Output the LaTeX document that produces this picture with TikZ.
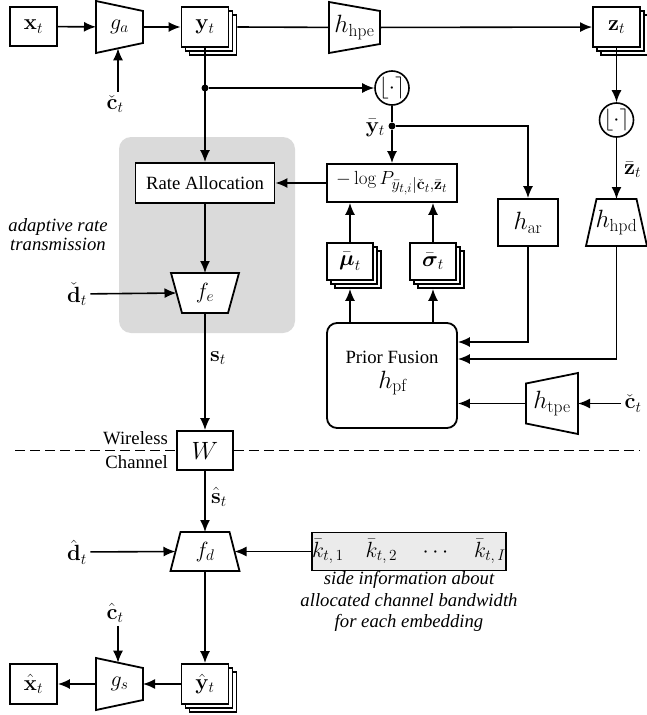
\RequirePackage{fix-cm}
\documentclass[tikz,border=0pt]{standalone}
\usepackage{amsmath}
\usepackage[no-math]{fontspec}
\newfontfamily\serifface{Liberation Serif}
\usetikzlibrary{arrows.meta,shadows,calc}

% larger subscripts for the probability label
\DeclareMathSizes{19}{19}{16}{13}

\definecolor{regiongray}{HTML}{DADADA}
\definecolor{sidegray}{HTML}{EBEBEB}

\pgfdeclarelayer{background}
\pgfdeclarelayer{shapes}
\pgfsetlayers{background,shapes,main}

\tikzset{
  mathfont/.style={font=\fontsize{22}{26}\selectfont},
  hfont/.style={font=\fontsize{25}{29}\selectfont},
  textfont/.style={font=\fontsize{18.7}{22}\selectfont\serifface},
  box/.style={draw, line width=1.8pt, fill=white, inner sep=0pt, mathfont},
  stackbox/.style={box, double copy shadow={shadow xshift=4pt, shadow yshift=-4pt}},
  trapbox/.style={inner sep=0pt, outer sep=0pt, mathfont},
  trapline/.style={draw, line width=1.8pt, fill=white, line join=miter},
  conn/.style={line width=1.6pt},
  arr/.style={conn, -{Latex[length=12pt,width=10pt]}},
  rounding/.style={draw, line width=1.6pt, circle, minimum size=34pt, inner sep=0pt, fill=white, mathfont},
  junction/.style={circle, fill, inner sep=0pt, minimum size=7pt},
  dashedline/.style={line width=1pt, dash pattern=on 10pt off 5pt},
}

% trapezoid with vertical sides: insets of the left and right sides
\newcommand\traph[3]{\draw[trapline] ([yshift=-#2pt]#1.north west) -- ([yshift=-#3pt]#1.north east) -- ([yshift=#3pt]#1.south east) -- ([yshift=#2pt]#1.south west) -- cycle;}
% trapezoid with horizontal sides: insets of the top and bottom sides
\newcommand\trapv[3]{\draw[trapline] ([xshift=#2pt]#1.north west) -- ([xshift=-#2pt]#1.north east) -- ([xshift=-#3pt]#1.south east) -- ([xshift=#3pt]#1.south west) -- cycle;}

\begin{document}
\begin{tikzpicture}[x=1pt, y=-1pt]
\useasboundingbox (0,0) rectangle (647,715);

% ---------- encoder side ----------
\node[box, minimum width=47pt, minimum height=39pt] (xt) at (33.5,26.5) {$\mathbf{x}_t$};
\node[trapbox, minimum width=47pt, minimum height=52pt] (ga) at (119.5,27) {$g_a$};
\node[stackbox, minimum width=47pt, minimum height=40pt] (yt) at (205,27) {$\mathbf{y}_t$};
\node[trapbox, hfont, minimum width=51pt, minimum height=51pt] (hhpe) at (354.5,27.5) {$h_{\mathrm{hpe}}$};
\node[stackbox, minimum width=47pt, minimum height=40pt] (zt) at (616.5,27) {$\mathbf{z}_t$};
\node[mathfont] (cta) at (115,104) {$\check{\mathbf{c}}_t$};
\coordinate (ga-in) at (118,48.3);

\node[junction] (j1) at (205,88) {};
\node[rounding] (q1) at (392,88) {$\lfloor\cdot\rceil$};
\node[junction] (j2) at (392,126) {};
\node[mathfont, anchor=east, inner sep=0pt] (ybar) at (385,128) {$\bar{\mathbf{y}}_t$};

% rate allocation region
\begin{pgfonlayer}{background}
\node[fill=regiongray, rounded corners=12pt, minimum width=176pt, minimum height=196pt, inner sep=0pt] (region) at (207,235) {};
\end{pgfonlayer}
\node[box, textfont, minimum width=139pt, minimum height=40pt] (ra) at (205,183) {Rate Allocation};
\node[box, minimum width=130pt, minimum height=38pt, font=\fontsize{19}{23}\selectfont] (lp) at (392,183) {$-\log P_{\bar{y}_{t,i}|\check{\mathbf{c}}_t,\bar{\mathbf{z}}_t}$};
\node[font=\fontsize{18.7}{19}\selectfont\serifface\itshape, align=center, inner sep=0pt] (adapt) at (58,235) {adaptive rate\\transmission};

\node[stackbox, minimum width=46pt, minimum height=37pt] (mu) at (350,261.5) {$\bar{\boldsymbol{\mu}}_t$};
\node[stackbox, minimum width=46pt, minimum height=37pt] (sg) at (433,261.5) {$\bar{\boldsymbol{\sigma}}_t$};
\node[box, hfont, minimum width=60pt, minimum height=47pt] (har) at (528,222.5) {$h_{\mathrm{ar}}$};
\node[trapbox, hfont, minimum width=61pt, minimum height=47pt] (hhpd) at (616.5,222.5) {$h_{\mathrm{hpd}}$};
\node[rounding] (q2) at (616.5,120) {$\lfloor\cdot\rceil$};
\node[mathfont, anchor=west, inner sep=0pt] (zbar) at (624,170) {$\bar{\mathbf{z}}_t$};

% prior fusion
\node[draw, line width=1.8pt, rounded corners=10pt, fill=white, minimum width=130pt, minimum height=105pt] (pf) at (392,375.5) {};
\node[textfont, inner sep=0pt] (pft) at (392,357) {Prior Fusion};
\node[hfont, inner sep=0pt] (pfh) at (393,383) {$h_{\mathrm{pf}}$};
\node[trapbox, hfont, minimum width=52pt, minimum height=61pt] (htpe) at (552,403.5) {$h_{\mathrm{tpe}}$};
\node[mathfont] (ctb) at (633,403.5) {$\check{\mathbf{c}}_t$};

\node[trapbox, minimum width=68pt, minimum height=40pt] (fe) at (205,293) {$f_e$};
\node[mathfont] (dd) at (77,294) {$\check{\mathbf{d}}_t$};
\node[mathfont, anchor=west, inner sep=0pt] (stl) at (210,358) {$\mathbf{s}_t$};

% ---------- channel ----------
\node[box, minimum width=56pt, minimum height=39pt, font=\fontsize{25}{30}\selectfont] (w) at (205,450.5) {$W$};
\node[textfont, anchor=east, inner sep=0pt] (wl) at (168,438) {Wireless};
\node[textfont, anchor=east, inner sep=0pt] (ch) at (168,462) {Channel};
\coordinate (dl) at (15,450.5);
\coordinate (dr) at (640,450.5);

% ---------- decoder side ----------
\node[mathfont, anchor=west, inner sep=0pt] (shl) at (211,497) {$\hat{\mathbf{s}}_t$};
\node[trapbox, minimum width=69pt, minimum height=39pt] (fd) at (205,551.5) {$f_d$};
\node[mathfont] (dh) at (77,552) {$\hat{\mathbf{d}}_t$};
\node[box, fill=sidegray, minimum width=192pt, minimum height=38pt] (kb) at (409,551.5) {$\bar{k}_{t,\,1}\quad\bar{k}_{t,\,2}\quad\cdots\quad\bar{k}_{t,\,I}$};
\node[font=\fontsize{18.7}{21.5}\selectfont\serifface\itshape, align=center, inner sep=0pt] (side) at (409,601.5) {side information about\\allocated channel bandwidth\\for each embedding};
\node[stackbox, minimum width=47pt, minimum height=40pt] (yh) at (205,684) {$\hat{\mathbf{y}}_t$};
\node[trapbox, minimum width=47pt, minimum height=52pt] (gs) at (119.5,684) {$g_s$};
\node[box, minimum width=47pt, minimum height=40pt] (xh) at (33.5,684) {$\hat{\mathbf{x}}_t$};
\node[mathfont] (ctc) at (115,613) {$\hat{\mathbf{c}}_t$};
\coordinate (gs-in) at (118,662.7);

% trapezoid outlines
\begin{pgfonlayer}{shapes}
\traph{ga}{0}{10}
\traph{hhpe}{0}{9}
\traph{gs}{0}{10}
\traph{htpe}{10.5}{0}
\trapv{fe}{0}{11}
\trapv{fd}{10}{0}
\trapv{hhpd}{10.5}{0}
\end{pgfonlayer}

% ---------- connectors ----------
\draw[arr] (xt) -- (ga);
\draw[arr] (ga) -- (yt);
\draw[conn] ([xshift=8pt]yt.east) -- (hhpe);
\draw[arr] (hhpe) -- (zt);
\draw[arr] (cta.north -| ga-in) -- (ga-in);
\draw[arr] (yt) -- (ra);
\draw[arr] (j1) -- (q1);
\draw[conn] (q1) -- (j2);
\draw[arr] (j2) -- (lp);
\draw[arr] (j2) -| (har);
\draw[arr] (lp) -- (ra);
\draw[arr] (mu.north) -- (mu.north |- lp.south);
\draw[arr] (sg.north) -- (sg.north |- lp.south);
\draw[arr] (pf.north -| mu) -- ([yshift=-8pt]mu.south);
\draw[arr] (pf.north -| sg) -- ([yshift=-8pt]sg.south);
\draw[arr] (har) |- ([yshift=33.5pt]pf.east);
\draw[arr] (hhpd) |- ([yshift=16.5pt]pf.east);
\draw[arr] (htpe) -- (htpe -| pf.east);
\draw[arr] (ctb) -- (htpe);
\draw[arr] (zt) -- (q2);
\draw[arr] (q2) -- (hhpd);
\draw[arr] (ra) -- (fe);
\draw[arr] (dd) -- ([xshift=5.5pt]fe.west);
\draw[arr] (fe) -- (w);
\draw[dashedline] (w.west -| dl) -- (w.west);
\draw[dashedline] (w.east) -- (w.east -| dr);
\draw[arr] (w) -- (fd);
\draw[arr] (dh) -- ([xshift=5pt]fd.west);
\draw[arr] (kb) -- ([xshift=-5pt]fd.east);
\draw[arr] (fd) -- (yh);
\draw[arr] (yh) -- (gs);
\draw[arr] (gs) -- (xh);
\draw[arr] (ctc.south -| gs-in) -- (gs-in);
\end{tikzpicture}
\end{document}
